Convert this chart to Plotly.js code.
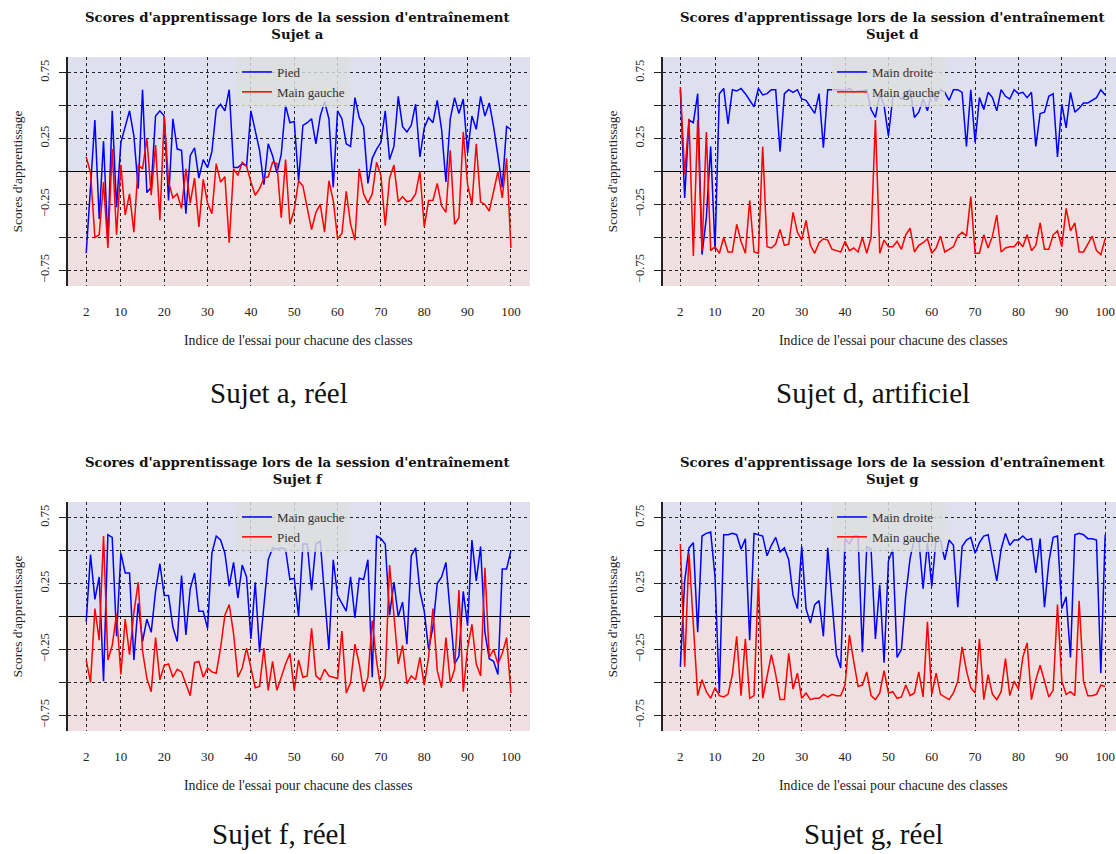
<!DOCTYPE html>
<html>
<head>
<meta charset="utf-8">
<script src="https://cdn.plot.ly/plotly-3.0.1.min.js"></script>
<style>html,body{margin:0;padding:0;background:#fff;}#chart{width:1116px;height:854px;}</style>
</head>
<body>
<div id="chart"></div>
<script>
// Trial index (x) for each class
const trials = [2,3,4,5,6,7,8,9,10,11,12,13,14,15,16,17,18,19,20,21,22,23,24,25,26,27,28,29,30,31,32,33,34,35,36,37,38,39,40,41,42,43,44,45,46,47,48,49,50,51,52,53,54,55,56,57,58,59,60,61,62,63,64,65,66,67,68,69,70,71,72,73,74,75,76,77,78,79,80,81,82,83,84,85,86,87,88,89,90,91,92,93,94,95,96,97,98,99,100];
const xTickVals = [2,10,20,30,40,50,60,70,80,90,100];
const yTickVals = [-0.75,-0.5,-0.25,0,0.25,0.5,0.75];
const yTickText = ['\u22120.75','','\u22120.25','','0.25','','0.75'];

// Sujet a
const aPied = [-0.62,-0.10,0.39,-0.36,0.23,-0.54,0.46,-0.27,0.22,0.34,
0.46,0.27,-0.13,0.62,-0.16,-0.12,0.42,0.46,0.42,-0.22,
0.40,0.17,0.16,-0.32,0.12,0.18,-0.05,0.09,0.03,0.15,
0.47,0.51,0.46,0.62,0.03,0.03,0.06,0.04,0.46,0.31,
0.16,-0.10,0.21,0.12,-0.01,0.13,0.50,0.37,0.38,-0.07,
0.35,0.37,0.40,0.21,0.42,0.53,0.40,-0.12,0.46,0.40,
0.21,0.19,0.56,0.41,0.34,-0.09,0.10,0.17,0.22,0.46,
0.09,0.19,0.57,0.34,0.30,0.35,0.51,0.11,0.33,0.41,
0.37,0.54,0.32,-0.08,0.40,0.56,0.44,0.55,0.14,0.42,
0.32,0.57,0.42,0.52,0.34,0.12,-0.12,0.34,0.32];
const aMainGauche = [0.11,-0.01,-0.50,-0.48,-0.08,-0.58,0.17,-0.48,0.05,-0.33,
-0.17,-0.46,0.05,0.02,0.25,-0.18,0.20,-0.37,0.42,-0.08,
-0.20,-0.17,-0.28,0.02,-0.24,-0.05,-0.42,-0.06,-0.24,-0.32,
0.06,-0.08,-0.04,-0.54,0.02,-0.03,0.07,0.04,-0.08,-0.18,
-0.13,-0.05,-0.04,0.07,0.06,-0.35,0.09,-0.40,-0.29,-0.07,
-0.11,-0.27,-0.44,-0.31,-0.25,-0.46,-0.07,-0.22,-0.51,-0.47,
-0.15,-0.40,-0.52,0.02,-0.17,-0.24,-0.17,0.07,-0.03,-0.41,
-0.05,0.05,-0.23,-0.19,-0.23,-0.22,-0.17,0.00,-0.42,-0.22,
-0.22,-0.09,-0.26,-0.31,0.16,-0.40,-0.35,0.30,-0.10,-0.25,
0.21,-0.23,-0.25,-0.30,-0.15,0.00,-0.20,0.10,-0.58];

// Sujet d
const dMainDroite = [0.62,-0.20,0.39,0.37,0.59,-0.63,-0.35,0.19,-0.59,0.59,
0.63,0.36,0.62,0.61,0.63,0.59,0.54,0.49,0.63,0.58,
0.59,0.62,0.62,0.15,0.59,0.62,0.60,0.62,0.55,0.54,
0.49,0.44,0.59,0.18,0.62,0.62,0.62,0.62,0.61,0.63,
0.60,0.61,0.61,0.62,0.47,0.41,0.59,0.50,0.27,0.56,
0.58,0.55,0.59,0.62,0.41,0.45,0.55,0.46,0.61,0.53,
0.62,0.60,0.54,0.62,0.62,0.60,0.19,0.62,0.22,0.56,
0.47,0.60,0.56,0.46,0.62,0.57,0.55,0.62,0.59,0.60,
0.56,0.60,0.19,0.44,0.45,0.57,0.59,0.11,0.51,0.33,
0.60,0.45,0.48,0.52,0.52,0.54,0.56,0.62,0.58];
const dMainGauche = [0.64,-0.02,0.40,-0.64,0.39,-0.60,0.30,-0.60,-0.57,-0.62,
-0.50,-0.61,-0.61,-0.40,-0.53,-0.62,-0.22,-0.61,-0.62,0.19,
-0.57,-0.58,-0.55,-0.44,-0.56,-0.55,-0.31,-0.46,-0.52,-0.37,
-0.56,-0.62,-0.54,-0.51,-0.52,-0.59,-0.60,-0.61,-0.53,-0.60,
-0.58,-0.61,-0.50,-0.62,-0.50,0.39,-0.62,-0.52,-0.57,-0.57,
-0.53,-0.59,-0.48,-0.43,-0.61,-0.56,-0.54,-0.51,-0.62,-0.58,
-0.49,-0.61,-0.59,-0.57,-0.49,-0.46,-0.49,-0.19,-0.62,-0.62,
-0.48,-0.58,-0.49,-0.33,-0.61,-0.58,-0.57,-0.57,-0.53,-0.57,
-0.48,-0.60,-0.56,-0.39,-0.59,-0.59,-0.48,-0.45,-0.57,-0.28,
-0.45,-0.39,-0.61,-0.61,-0.55,-0.49,-0.60,-0.63,-0.51];

// Sujet f
const fMainGauche = [-0.04,0.47,0.13,0.30,-0.49,0.62,0.60,-0.15,0.48,0.33,
0.33,-0.33,0.10,-0.19,-0.02,-0.12,0.19,0.40,0.16,0.16,
-0.08,-0.19,0.31,-0.14,0.21,0.33,0.04,0.04,-0.09,0.48,
0.61,0.58,0.48,0.23,0.41,0.14,0.39,0.30,-0.17,0.26,
-0.27,0.09,0.43,0.52,0.51,0.52,0.51,0.28,0.29,0.00,
0.55,0.55,0.20,0.55,0.57,0.16,-0.25,0.43,0.16,0.10,
0.04,0.30,-0.01,0.29,0.28,0.43,-0.46,0.61,0.59,0.55,
0.01,0.26,0.00,0.11,-0.21,0.46,0.52,0.19,0.04,-0.25,
-0.08,0.25,0.30,0.41,0.05,-0.36,-0.30,0.19,-0.07,0.58,
0.27,0.53,-0.12,-0.32,-0.34,-0.44,0.36,0.36,0.50];
const fPied = [-0.33,-0.50,0.06,-0.18,0.61,-0.33,-0.22,0.02,-0.44,-0.02,
-0.29,0.03,0.26,-0.26,-0.47,-0.57,-0.16,-0.48,-0.37,-0.36,
-0.46,-0.40,-0.42,-0.51,-0.60,-0.35,-0.34,-0.46,-0.39,-0.42,
-0.43,-0.24,0.01,0.09,-0.13,-0.46,-0.39,-0.24,-0.39,-0.54,
-0.53,-0.24,-0.56,-0.34,-0.56,-0.46,-0.36,-0.28,-0.56,-0.33,
-0.46,-0.45,-0.09,-0.45,-0.48,-0.40,-0.45,-0.46,-0.47,-0.11,
-0.58,-0.50,-0.21,-0.36,-0.57,-0.46,-0.03,-0.34,-0.55,-0.46,
0.39,0.01,-0.36,-0.22,-0.51,-0.45,-0.48,-0.31,-0.52,-0.31,
0.06,-0.41,-0.54,-0.16,-0.50,-0.40,0.20,-0.57,-0.24,-0.06,
-0.36,-0.45,0.37,-0.31,-0.25,-0.36,-0.28,-0.16,-0.58];

// Sujet g
const gMainDroite = [-0.38,0.27,0.52,0.56,-0.12,0.61,0.63,0.64,0.30,-0.58,
0.62,0.62,0.63,0.62,0.51,0.59,-0.18,0.63,0.62,0.61,
0.46,0.54,0.60,0.49,0.52,0.43,0.16,0.06,0.53,0.06,
-0.05,0.09,0.12,-0.15,0.52,0.11,-0.29,-0.39,0.59,0.55,
0.61,0.61,-0.27,0.53,0.51,-0.17,0.24,-0.35,0.42,0.51,
-0.31,-0.25,0.16,0.44,0.59,0.59,0.21,0.56,0.23,0.59,
0.58,0.43,0.58,0.54,0.07,0.53,0.58,0.60,0.48,0.56,
0.61,0.62,0.45,0.27,0.51,0.63,0.54,0.58,0.58,0.61,
0.58,0.59,0.33,0.59,0.07,0.41,0.60,0.61,0.06,0.15,
-0.31,0.62,0.63,0.62,0.59,0.59,0.58,-0.43,0.62];
const gMainGauche = [0.55,-0.38,0.48,-0.06,-0.60,-0.48,-0.57,-0.62,-0.54,-0.60,
-0.61,-0.59,-0.44,-0.15,-0.60,-0.17,-0.62,-0.60,0.29,-0.62,
-0.46,-0.29,-0.44,-0.63,-0.63,-0.28,-0.55,-0.43,-0.62,-0.58,
-0.63,-0.62,-0.62,-0.59,-0.61,-0.59,-0.60,-0.60,-0.52,-0.14,
-0.34,-0.53,-0.52,-0.42,-0.60,-0.63,-0.58,-0.41,-0.58,-0.57,
-0.62,-0.61,-0.52,-0.60,-0.58,-0.42,-0.61,-0.04,-0.59,-0.43,
-0.59,-0.61,-0.63,-0.58,-0.49,-0.23,-0.41,-0.54,-0.58,-0.17,
-0.63,-0.44,-0.59,-0.63,-0.57,-0.32,-0.60,-0.49,-0.55,-0.31,
-0.20,-0.63,-0.48,-0.37,-0.50,-0.61,-0.56,0.09,-0.49,-0.59,
-0.57,-0.60,0.12,-0.49,-0.60,-0.60,-0.59,-0.52,-0.53];

const W = 1116, H = 854;
const SERIF = "'Liberation Serif', 'Times New Roman', serif";
const BOLD = "'DejaVu Serif', serif";
const BLUE = '#0000ff', RED = '#ff0000';
const YMAX = 0.868;

const panels = [
  {ax:'', leg:'legend', left:68, right:530, top:57, bottom:286, xr:[-2.2,104.4],
   s1:{name:'Pied', y:aPied, c:BLUE}, s2:{name:'Main gauche', y:aMainGauche, c:RED},
   title:'Sujet a', caption:'Sujet a, réel', tcx:298, ccx:279, capy:393, legx:237},
  {ax:'2', leg:'legend2', left:663, right:1116, top:57, bottom:286, xr:[-2.0,102.5],
   s1:{name:'Main droite', y:dMainDroite, c:BLUE}, s2:{name:'Main gauche', y:dMainGauche, c:RED},
   title:'Sujet d', caption:'Sujet d, artificiel', tcx:893, ccx:873, capy:393, legx:832},
  {ax:'3', leg:'legend3', left:68, right:530, top:502, bottom:731, xr:[-2.2,104.4],
   s1:{name:'Main gauche', y:fMainGauche, c:BLUE}, s2:{name:'Pied', y:fPied, c:RED},
   title:'Sujet f', caption:'Sujet f, réel', tcx:298, ccx:279, capy:834, legx:237},
  {ax:'4', leg:'legend4', left:663, right:1116, top:502, bottom:731, xr:[-2.0,102.5],
   s1:{name:'Main droite', y:gMainDroite, c:BLUE}, s2:{name:'Main gauche', y:gMainGauche, c:RED},
   title:'Sujet g', caption:'Sujet g, réel', tcx:893, ccx:873, capy:834, legx:832}
];

const data = [];
const layout = {
  width: W, height: H,
  margin: {l:0, r:0, t:0, b:0},
  paper_bgcolor: '#ffffff', plot_bgcolor: 'rgba(0,0,0,0)',
  showlegend: true,
  shapes: [], annotations: []
};

panels.forEach(p => {
  const xa = 'x' + p.ax, ya = 'y' + p.ax;
  [p.s1, p.s2].forEach(s => {
    data.push({type:'scatter', mode:'lines', x: trials, y: s.y, name: s.name,
      xaxis: xa, yaxis: ya, legend: p.leg,
      line: {color: s.c, width: 1.5}});
  });
  const dx = [p.left / W, p.right / W];
  const dy = [1 - p.bottom / H, 1 - p.top / H];
  layout['xaxis' + p.ax] = {
    domain: dx, anchor: ya, range: p.xr, fixedrange: true,
    tickmode: 'array', tickvals: xTickVals, ticks: '', ticklabelstandoff: 16,
    tickfont: {family: SERIF, size: 13, color: '#222'},
    showgrid: true, gridcolor: '#222', gridwidth: 1, griddash: '3px,3px',
    zeroline: false, showline: false
  };
  layout['yaxis' + p.ax] = {
    domain: dy, anchor: xa, range: [-YMAX, YMAX], fixedrange: true,
    tickmode: 'array', tickvals: yTickVals, ticktext: yTickText, tickangle: -90,
    ticks: 'outside', ticklen: 7, tickwidth: 1, tickcolor: '#222', ticklabelstandoff: 5,
    tickfont: {family: SERIF, size: 12.5, color: '#222'},
    showgrid: true, gridcolor: '#222', gridwidth: 1, griddash: '3px,3px',
    zeroline: true, zerolinecolor: '#000', zerolinewidth: 1.5,
    showline: true, linecolor: '#222', linewidth: 2
  };
  layout.shapes.push({type:'rect', xref: xa + ' domain', yref: ya, x0:0, x1:1, y0:0, y1:YMAX,
    fillcolor:'#dfe0ef', line:{width:0}, layer:'below'});
  layout.shapes.push({type:'rect', xref: xa + ' domain', yref: ya, x0:0, x1:1, y0:-YMAX, y1:0,
    fillcolor:'#efdfe0', line:{width:0}, layer:'below'});
  layout[p.leg] = {
    x: p.legx / W, y: 1 - p.top / H, xanchor: 'left', yanchor: 'top',
    xref: 'paper', yref: 'paper',
    bgcolor: 'rgba(222,222,222,0.82)', borderwidth: 0,
    font: {family: SERIF, size: 13, color: '#333'},
    itemwidth: 30, tracegroupgap: 0, traceorder: 'normal'
  };
  // panel title
  layout.annotations.push({xref:'paper', yref:'paper', x: p.tcx / W, y: 1 - (p.top - 31) / H,
    xanchor:'center', yanchor:'middle', showarrow:false,
    text:"<b>Scores d'apprentissage lors de la session d'entraînement<br>" + p.title + "</b>",
    font:{family: BOLD, size: 13.3, color:'#111'}});
  // y axis title
  layout.annotations.push({xref:'paper', yref:'paper', x: (p.left - 51) / W,
    y: 1 - ((p.top + p.bottom) / 2) / H, xanchor:'center', yanchor:'middle',
    textangle: -90, showarrow:false, text:"Scores d'apprentissage",
    font:{family: SERIF, size: 13.5, color:'#222'}});
  // x axis title
  layout.annotations.push({xref:'paper', yref:'paper', x: (p.left + 230.5) / W,
    y: 1 - (p.bottom + 54) / H, xanchor:'center', yanchor:'middle', showarrow:false,
    text:"Indice de l'essai pour chacune des classes",
    font:{family: SERIF, size: 13.8, color:'#222'}});
  // caption
  layout.annotations.push({xref:'paper', yref:'paper', x: p.ccx / W,
    y: 1 - p.capy / H, xanchor:'center', yanchor:'middle', showarrow:false,
    text: p.caption, font:{family: SERIF, size: 29, color:'#111'}});
});

Plotly.newPlot('chart', data, layout, {displayModeBar: false, staticPlot: true});
</script>
</body>
</html>
